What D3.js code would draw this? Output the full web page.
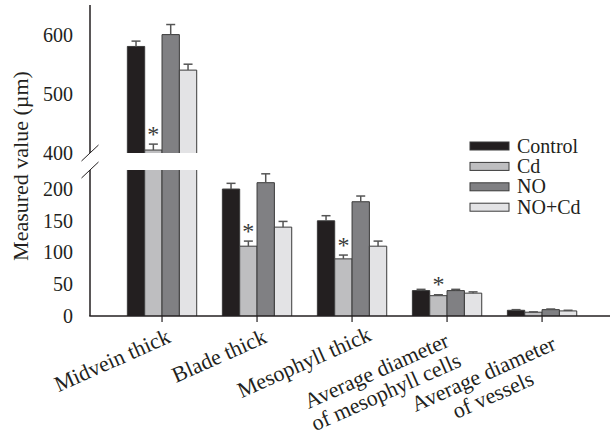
<!DOCTYPE html>
<html>
<head>
<meta charset="utf-8">
<script src="https://cdn.jsdelivr.net/npm/d3@7"></script>
<style>
  html, body { margin: 0; padding: 0; background: #fff; }
  svg { display: block; }
  text { font-family: "Liberation Serif", "Times New Roman", serif; fill: #231f20; }
</style>
</head>
<body>
<svg id="chart" width="610" height="432"></svg>
<script>
// Leaf anatomy measurements (µm) per treatment
const categories = [
  ["Midvein thick"],
  ["Blade thick"],
  ["Mesophyll thick"],
  ["Average diameter", "of mesophyll cells"],
  ["Average diameter", "of vessels"]
];
const series = ["Control", "Cd", "NO", "NO+Cd"];

const controlValues = [580, 200, 150, 40, 9];
const cdValues      = [405, 110,  90, 32, 6];
const noValues      = [600, 210, 180, 40, 10];
const noCdValues    = [540, 140, 110, 36, 8];

const controlErr = [9, 9, 8, 2, 1];
const cdErr      = [10, 8, 6, 1.5, 0.5];
const noErr      = [17, 14, 9, 2, 1];
const noCdErr    = [10, 9, 8, 2, 1];

// significant difference (*) marked on the Cd bar
const cdSignificant = [true, true, true, true, false];

const lowerTicks = [0, 50, 100, 150, 200];
const upperTicks = [400, 500, 600];

// broken axis: two value ranges
const lowerDomain = [0, 230];
const upperDomain = [400, 650];

const colors = ["#231f20", "#bebec0", "#808083", "#e3e3e5"];
const ink = "#231f20";

const valuesBySeries = [controlValues, cdValues, noValues, noCdValues];
const errBySeries = [controlErr, cdErr, noErr, noCdErr];

const svg = d3.select("#chart");

const axisX = 90;
const baseY = 316;

const yLow = d3.scaleLinear().domain(lowerDomain).range([baseY, 170]);
const yUp  = d3.scaleLinear().domain(upperDomain).range([153, 5]);

const catKeys = categories.map(c => c.join(" "));
const x0 = d3.scaleBand().domain(catKeys).range([101.7, 602.4]).padding(0.27);
const x1 = d3.scaleBand().domain(series).range([0, x0.bandwidth()]).padding(0);

// value -> y on the broken axis
function yOf(v) { return v <= lowerDomain[1] ? yLow(v) : yUp(v); }

const rows = [];
catKeys.forEach((cat, ci) => {
  series.forEach((s, si) => {
    rows.push({ cat, ci, s, si, v: valuesBySeries[si][ci], e: errBySeries[si][ci] });
  });
});

const gBars = svg.append("g");

rows.forEach(d => {
  const xl = x0(d.cat) + x1(d.s);
  const w = x1.bandwidth();
  const xr = xl + w;
  const segments = [];
  if (d.v <= lowerDomain[1]) {
    segments.push({ y0: yLow(0), y1: yLow(d.v), top: true });
  } else {
    segments.push({ y0: yLow(0), y1: yLow(lowerDomain[1]), top: false });
    segments.push({ y0: yUp(upperDomain[0]), y1: yUp(d.v), top: true });
  }
  segments.forEach(sg => {
    gBars.append("rect")
      .attr("x", xl).attr("y", sg.y1)
      .attr("width", w).attr("height", sg.y0 - sg.y1)
      .attr("fill", colors[d.si]);
    const p = d3.path();
    p.moveTo(xl, sg.y0);
    p.lineTo(xl, sg.y1);
    if (sg.top) p.lineTo(xr, sg.y1); else p.moveTo(xr, sg.y1);
    p.lineTo(xr, sg.y0);
    gBars.append("path").attr("d", p.toString())
      .attr("fill", "none").attr("stroke", "#3a3a3a").attr("stroke-width", 1);
  });

  // upward error bar with cap
  const cx = xl + w / 2;
  const yTop = yOf(d.v + d.e);
  gBars.append("line")
    .attr("x1", cx).attr("x2", cx).attr("y1", yOf(d.v)).attr("y2", yTop)
    .attr("stroke", "#555").attr("stroke-width", 1.5);
  gBars.append("line")
    .attr("x1", cx - 4.5).attr("x2", cx + 4.5).attr("y1", yTop).attr("y2", yTop)
    .attr("stroke", "#555").attr("stroke-width", 1.5);

  if (d.s === "Cd" && cdSignificant[d.ci]) {
    gBars.append("text")
      .attr("x", cx).attr("y", yTop - 14 + 11.5)
      .attr("text-anchor", "middle")
      .style("font-size", "24px")
      .style("fill", "#3a3a3a")
      .text("*");
  }
});

// axes
const gAxes = svg.append("g");
gAxes.append("line").attr("x1", axisX).attr("x2", axisX)
  .attr("y1", yLow(0)).attr("y2", yLow(lowerDomain[1]))
  .attr("stroke", ink).attr("stroke-width", 1.5);
gAxes.append("line").attr("x1", axisX).attr("x2", axisX)
  .attr("y1", yUp(upperDomain[0])).attr("y2", yUp(upperDomain[1]))
  .attr("stroke", ink).attr("stroke-width", 1.5);
gAxes.append("line").attr("x1", axisX - 0.75).attr("x2", 610)
  .attr("y1", baseY).attr("y2", baseY)
  .attr("stroke", ink).attr("stroke-width", 1.5);

// break marks
[yUp(upperDomain[0]), yLow(lowerDomain[1])].forEach(yb => {
  gAxes.append("line")
    .attr("x1", axisX - 8.5).attr("y1", yb + 8)
    .attr("x2", axisX + 8.5).attr("y2", yb - 8)
    .attr("stroke", ink).attr("stroke-width", 1);
});

function styleLeft(g) {
  g.select(".domain").remove();
  g.selectAll(".tick line").remove();
  g.selectAll(".tick text")
    .style("font-size", "20px")
    .style("font-family", "'Liberation Serif', 'Times New Roman', serif")
    .attr("fill", ink);
}
svg.append("g").attr("transform", `translate(${axisX},0)`)
  .call(d3.axisLeft(yLow).tickValues(lowerTicks).tickSize(0).tickPadding(17))
  .call(styleLeft);
svg.append("g").attr("transform", `translate(${axisX},0)`)
  .call(d3.axisLeft(yUp).tickValues(upperTicks).tickSize(0).tickPadding(17))
  .call(styleLeft);

// category ticks on the x axis
const gX = svg.append("g").attr("transform", `translate(0,${baseY})`)
  .call(d3.axisBottom(x0).tickSize(6).tickFormat(""));
gX.select(".domain").remove();
gX.selectAll(".tick line").attr("stroke", ink).attr("stroke-width", 1.2);

// rotated category labels, each line centred on its block
const labelNudge = [[-47, 51], [-35, 46.5], [-45, 53], [-67.5, 61.5], [-55.5, 64.5]];
const angle = -24;
categories.forEach((lines, ci) => {
  const cx = x0(catKeys[ci]) + x0.bandwidth() / 2;
  const t = svg.append("text")
    .attr("transform", `translate(${cx + labelNudge[ci][0]},${baseY + labelNudge[ci][1]}) rotate(${angle})`)
    .attr("text-anchor", "middle")
    .style("font-size", "22px");
  lines.forEach((ln, li) => {
    t.append("tspan").attr("x", 0).attr("y", li * 23).text(ln);
  });
});

// y axis title
svg.append("text")
  .attr("transform", "translate(28,166) rotate(-90)")
  .attr("text-anchor", "middle")
  .style("font-size", "22px")
  .text("Measured value (\u00b5m)");

// legend
const legend = svg.append("g").attr("transform", "translate(470,142)");
series.forEach((s, i) => {
  const g = legend.append("g").attr("transform", `translate(0,${i * 20.4})`);
  g.append("rect").attr("x", 0).attr("y", 0).attr("width", 39).attr("height", 8)
    .attr("fill", colors[i]).attr("stroke", "#3a3a3a").attr("stroke-width", 1);
  g.append("text").attr("x", 47).attr("y", 10.5)
    .style("font-size", "20px").text(s);
});
</script>
</body>
</html>
